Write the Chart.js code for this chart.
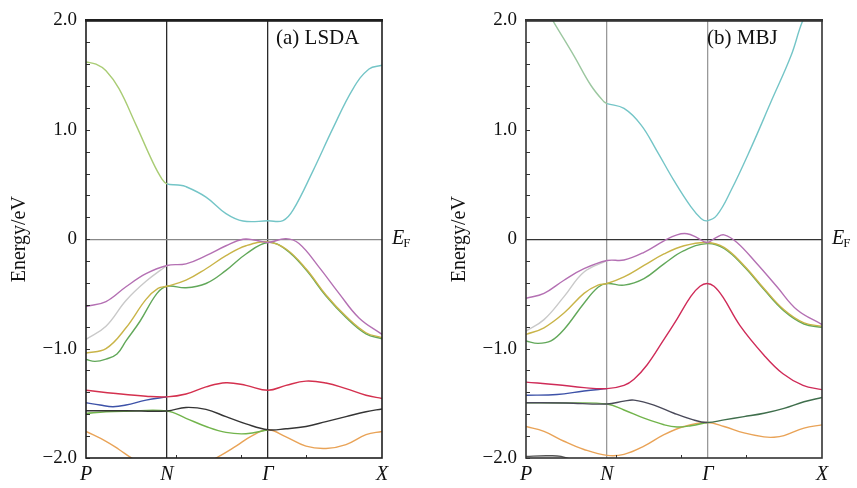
<!DOCTYPE html>
<html>
<head>
<meta charset="utf-8">
<script src="https://cdn.jsdelivr.net/npm/chart.js@4.4.0/dist/chart.umd.min.js"></script>
<style>
  html, body { margin: 0; padding: 0; background: #fff; }
  #wrap { position: relative; width: 857px; height: 488px; }
  .panel { position: absolute; top: 0; height: 488px; }
  #lsdaBox { left: 0; width: 428px; }
  #mbjBox { left: 440px; width: 417px; }
</style>
</head>
<body>
<div id="wrap">
  <div class="panel" id="lsdaBox"><canvas id="lsdaChart"></canvas></div>
  <div class="panel" id="mbjBox"><canvas id="mbjChart"></canvas></div>
</div>
<script>
// k-path positions of the high-symmetry points (path length, arb. units)
var kTicks = [0, 81, 182, 296];
var kLabels = ['P', 'N', 'Γ', 'X'];
var xMinorTicks = [90, 155, 220];
var yTicks = [-2, -1, 0, 1, 2];
var yTickLabels = ['−2.0', '−1.0', '0', '1.0', '2.0'];
var yMinorStep = 0.2;

// (a) LSDA bands: [k, E/eV]
var lsdaCB = [[0,1.62],[10,1.6],[20,1.54],[33,1.376],[50,1.045],[67,0.70],[76,0.55],[81,0.505],[92,0.495],[100,0.48],[120,0.385],[140,0.234],[157,0.166],[182,0.168],[197,0.17],[207,0.265],[227,0.625],[247,1.015],[267,1.375],[283,1.556],[296,1.59]];
var lsdaMag = [[0,-0.615],[20,-0.57],[40,-0.435],[60,-0.315],[81,-0.24],[100,-0.225],[120,-0.15],[140,-0.06],[157,0],[170,-0.01],[182,-0.03],[200,0.005],[213,-0.04],[233,-0.255],[253,-0.495],[273,-0.72],[296,-0.87]];
var lsdaGray = [[0,-0.915],[20,-0.795],[40,-0.56],[60,-0.385],[81,-0.24]];
var lsdaOrange = [[0,-1.04],[20,-1.0],[40,-0.81],[60,-0.55],[72,-0.45],[81,-0.43],[100,-0.375],[120,-0.27],[140,-0.15],[160,-0.06],[182,-0.025],[200,-0.09],[220,-0.27],[240,-0.51],[260,-0.705],[280,-0.855],[296,-0.9]];
var lsdaGreen = [[0,-1.1],[9,-1.117],[20,-1.096],[31,-1.05],[40,-0.93],[54,-0.75],[71,-0.495],[81,-0.43],[100,-0.444],[120,-0.405],[140,-0.285],[160,-0.135],[182,-0.03],[200,-0.095],[220,-0.28],[240,-0.52],[260,-0.715],[280,-0.865],[296,-0.91]];
var lsdaRed = [[0,-1.381],[30,-1.411],[60,-1.435],[81,-1.441],[100,-1.415],[120,-1.35],[140,-1.312],[160,-1.336],[182,-1.381],[200,-1.336],[220,-1.297],[240,-1.315],[260,-1.366],[280,-1.426],[296,-1.456]];
var lsdaBlue = [[0,-1.495],[14,-1.516],[27,-1.531],[40,-1.516],[60,-1.471],[81,-1.441]];
var lsdaBlack = [[0,-1.568],[40,-1.568],[81,-1.57],[100,-1.538],[120,-1.556],[140,-1.622],[160,-1.688],[182,-1.742],[200,-1.733],[220,-1.712],[240,-1.667],[260,-1.622],[280,-1.577],[296,-1.552]];
var lsdaGreen2 = [[0,-1.592],[20,-1.577],[40,-1.572],[81,-1.57],[100,-1.637],[120,-1.712],[140,-1.766],[160,-1.778],[182,-1.742]];
var lsdaOrange2 = [[0,-1.757],[20,-1.847],[33,-1.922],[45,-1.997],[60,-2.08],[81,-2.15],[110,-2.08],[130,-2.0],[150,-1.892],[165,-1.802],[182,-1.742],[200,-1.807],[220,-1.892],[240,-1.913],[260,-1.877],[280,-1.787],[296,-1.757]];

// (b) MBJ bands: [k, E/eV]
var mbjCB = [[0,2.3],[14,2.2],[28,1.98],[48,1.676],[65,1.405],[78,1.256],[81,1.24],[98,1.195],[115,1.045],[131,0.805],[148,0.535],[165,0.295],[175,0.19],[181,0.168],[191,0.22],[205,0.445],[225,0.835],[245,1.256],[265,1.676],[276,1.98],[296,2.4]];
var mbjMag = [[0,-0.54],[18,-0.495],[38,-0.375],[58,-0.27],[81,-0.195],[98,-0.19],[118,-0.12],[138,-0.015],[151,0.04],[161,0.05],[171,0.015],[181,-0.03],[190,0.015],[198,0.04],[211,-0.03],[231,-0.225],[251,-0.435],[271,-0.645],[296,-0.78]];
var mbjGray = [[0,-0.84],[18,-0.735],[38,-0.525],[58,-0.3],[81,-0.195]];
var mbjOrange = [[0,-0.87],[18,-0.81],[38,-0.675],[58,-0.495],[72,-0.42],[81,-0.405],[98,-0.345],[118,-0.24],[138,-0.135],[158,-0.06],[181,-0.03],[198,-0.075],[218,-0.24],[238,-0.45],[258,-0.645],[278,-0.765],[296,-0.795]];
var mbjGreen = [[0,-0.93],[12,-0.952],[25,-0.93],[38,-0.825],[58,-0.585],[72,-0.44],[81,-0.405],[98,-0.42],[118,-0.36],[138,-0.225],[158,-0.105],[181,-0.04],[198,-0.085],[218,-0.25],[238,-0.46],[258,-0.655],[278,-0.775],[296,-0.805]];
var mbjRed = [[0,-1.306],[31,-1.33],[58,-1.357],[81,-1.366],[98,-1.336],[108,-1.28],[121,-1.15],[137,-0.93],[151,-0.73],[165,-0.52],[174,-0.43],[181,-0.405],[188,-0.43],[197,-0.53],[214,-0.79],[238,-1.06],[257,-1.23],[277,-1.336],[296,-1.375]];
var mbjBlue = [[0,-1.426],[31,-1.42],[58,-1.387],[81,-1.366]];
var mbjBlack = [[0,-1.495],[40,-1.497],[81,-1.507],[98,-1.48],[108,-1.471],[128,-1.516],[148,-1.591],[165,-1.645],[181,-1.676],[198,-1.652],[218,-1.622],[238,-1.591],[258,-1.546],[278,-1.486],[296,-1.447]];
var mbjGreen2 = [[0,-1.495],[40,-1.497],[81,-1.507],[98,-1.561],[118,-1.636],[138,-1.696],[151,-1.717],[165,-1.705],[181,-1.676]];
var mbjOrange2 = [[0,-1.712],[18,-1.757],[38,-1.847],[58,-1.922],[81,-1.976],[98,-1.967],[118,-1.892],[138,-1.787],[158,-1.712],[181,-1.676],[198,-1.712],[218,-1.771],[238,-1.807],[248,-1.81],[258,-1.795],[278,-1.727],[296,-1.697]];
var mbjDark = [[0,-1.985],[20,-1.98],[35,-1.985],[50,-2.03]];

var SERIF = '"Liberation Serif", "DejaVu Serif", serif';
var kN = kTicks[1], kG = kTicks[2];

function band(pts, color, segColor, segFrom, segTo) {
  var ds = {
    data: pts.map(function (p) { return { x: p[0], y: p[1] }; }),
    borderColor: color,
    borderWidth: 1.4,
    pointRadius: 0,
    fill: false,
    tension: 0.4
  };
  if (segColor) {
    ds.segment = {
      borderColor: function (c) {
        var x = c.p1.parsed.x;
        return (x > segFrom && x <= segTo) ? segColor : undefined;
      }
    };
  }
  return ds;
}

var decor = {
  id: 'decor',
  afterDraw: function (chart, args, o) {
    var ctx = chart.ctx, a = chart.chartArea;
    var ys = chart.scales.y, xs = chart.scales.x;
    ctx.save();
    // minor ticks on the energy axis
    ctx.strokeStyle = '#333';
    ctx.lineWidth = 1;
    for (var v = -2; v <= 2.001; v += yMinorStep) {
      var py = Math.round(ys.getPixelForValue(v)) + 0.5;
      ctx.beginPath();
      ctx.moveTo(a.left, py);
      ctx.lineTo(a.left + 4, py);
      ctx.stroke();
    }
    xMinorTicks.forEach(function (k) {
      var px = Math.round(xs.getPixelForValue(k)) + 0.5;
      ctx.beginPath();
      ctx.moveTo(px, a.bottom);
      ctx.lineTo(px, a.bottom - 3);
      ctx.stroke();
    });
    // frame
    ctx.strokeStyle = o.frame;
    ctx.lineWidth = 1.6;
    ctx.strokeRect(a.left, a.top, a.right - a.left, a.bottom - a.top);
    ctx.lineWidth = 2.6;
    ctx.beginPath();
    ctx.moveTo(a.left - 1, a.top);
    ctx.lineTo(a.right + 1, a.top);
    ctx.stroke();
    // panel label
    ctx.fillStyle = '#111';
    ctx.font = '21px ' + SERIF;
    ctx.textAlign = 'left';
    ctx.textBaseline = 'alphabetic';
    ctx.fillText(o.label, a.left + o.labelDx, a.top + 24);
    // Fermi level label
    var y0 = ys.getPixelForValue(0);
    ctx.font = 'italic 20px ' + SERIF;
    ctx.fillText('E', a.right + 10, y0 + 5);
    var w = ctx.measureText('E').width;
    ctx.font = '13px ' + SERIF;
    ctx.fillText('F', a.right + 9 + w, y0 + 8);
    ctx.restore();
  }
};

function makeChart(id, bands, o) {
  var transparent = 'rgba(0,0,0,0)';
  return new Chart(document.getElementById(id).getContext('2d'), {
    type: 'line',
    data: { datasets: bands },
    options: {
      responsive: true,
      maintainAspectRatio: false,
      animation: false,
      layout: { padding: { left: 0, right: o.padRight, top: 14, bottom: 0 } },
      plugins: { legend: { display: false }, tooltip: { enabled: false }, decor: o },
      scales: {
        x: {
          type: 'linear',
          min: kTicks[0],
          max: kTicks[kTicks.length - 1],
          afterBuildTicks: function (s) { s.ticks = kTicks.map(function (v) { return { value: v }; }); },
          afterFit: function (s) { s.height = 30; },
          ticks: {
            autoSkip: false,
            maxRotation: 0,
            padding: 5,
            color: '#111',
            font: { family: SERIF, size: 20, style: 'italic' },
            callback: function (v) { return kLabels[kTicks.indexOf(v)]; }
          },
          grid: {
            drawTicks: false,
            lineWidth: 1.3,
            color: function (c) {
              return c.tick && (c.tick.value === kN || c.tick.value === kG) ? o.vColor : transparent;
            }
          },
          border: { display: false }
        },
        y: {
          min: -2,
          max: 2,
          afterBuildTicks: function (s) { s.ticks = yTicks.map(function (v) { return { value: v }; }); },
          afterFit: function (s) { s.width = 86; },
          ticks: {
            padding: 9,
            color: '#111',
            font: { family: SERIF, size: 19 },
            callback: function (v) { return yTickLabels[yTicks.indexOf(v)]; }
          },
          grid: {
            drawTicks: false,
            lineWidth: 1.2,
            color: function (c) { return c.tick && c.tick.value === 0 ? o.zeroColor : transparent; }
          },
          border: { display: false },
          title: {
            display: true,
            text: 'Energy/eV',
            color: '#111',
            font: { family: SERIF, size: 20 },
            padding: { top: 8, bottom: 0 }
          }
        }
      }
    },
    plugins: [decor]
  });
}

makeChart('lsdaChart', [
  band(lsdaCB, '#74c5c7', '#a9cc74', 0, kN),
  band(lsdaMag, '#b470b3'),
  band(lsdaOrange, '#c9b448'),
  band(lsdaGreen, '#62a85a'),
  band(lsdaGray, '#c9c9c9'),
  band(lsdaRed, '#d4304e'),
  band(lsdaBlue, '#3d52a8'),
  band(lsdaBlack, '#353535'),
  band(lsdaGreen2, '#72b44c'),
  band(lsdaOrange2, '#e9a357')
], { label: '(a) LSDA', labelDx: 190, padRight: 46, vColor: '#2a2a2a', zeroColor: '#888', frame: '#1e1e1e' });

makeChart('mbjChart', [
  band(mbjCB, '#74c5c7', '#9cc7a0', 0, kN),
  band(mbjMag, '#b470b3'),
  band(mbjOrange, '#c9b448'),
  band(mbjGreen, '#62a85a'),
  band(mbjGray, '#c9c9c9'),
  band(mbjRed, '#cf2b58'),
  band(mbjBlue, '#3d52a8'),
  band(mbjBlack, '#4a4a5a', '#3f6e4c', kG, kTicks[3]),
  band(mbjGreen2, '#72b44c'),
  band(mbjOrange2, '#e9a357'),
  band(mbjDark, '#555555')
], { label: '(b) MBJ', labelDx: 181, padRight: 35, vColor: '#999', zeroColor: '#333', frame: '#333' });
</script>
</body>
</html>
